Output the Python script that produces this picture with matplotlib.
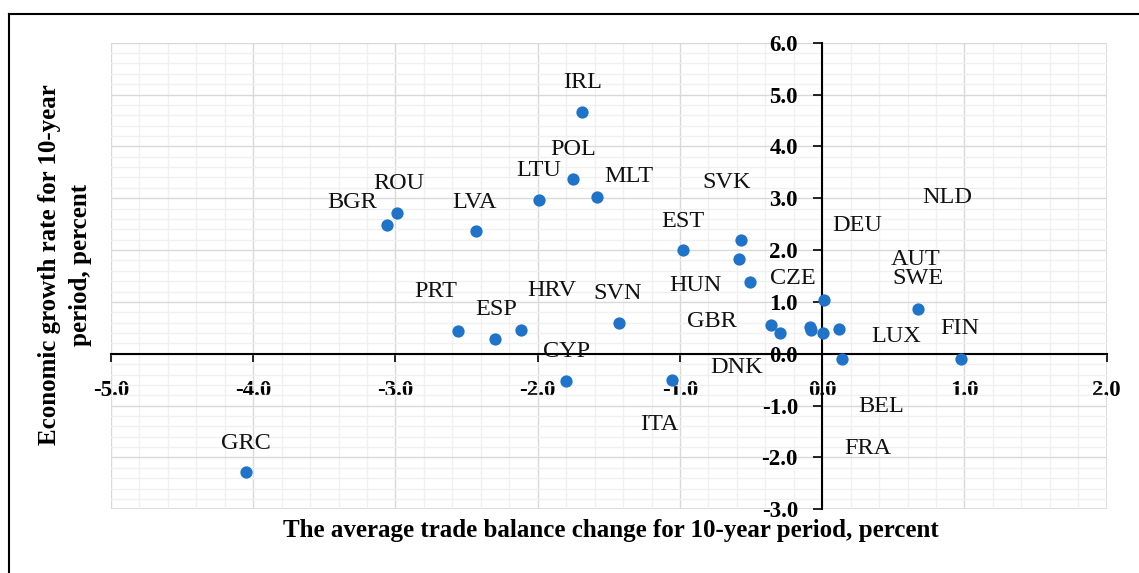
import numpy as np
import matplotlib.pyplot as plt
from matplotlib.ticker import MultipleLocator
from matplotlib.patches import Rectangle
from matplotlib.lines import Line2D

# Country codes and values
countries = ["BGR", "ROU", "LVA", "LTU", "POL", "IRL", "MLT", "EST",
             "SVK", "HUN", "CZE", "DEU", "NLD", "AUT", "SWE", "GBR",
             "DNK", "LUX", "FIN", "BEL", "FRA", "PRT", "ESP", "HRV",
             "SVN", "CYP", "ITA", "GRC"]
trade_change = [-3.06, -2.99, -2.435, -1.99, -1.75, -1.686, -1.585, -0.98,
                -0.572, -0.588, -0.506, 0.014, 0.005, 0.115, 0.673, -0.361,
                -0.30, 0.138, 0.975, -0.089, -0.08, -2.56, -2.30, -2.117,
                -1.43, -1.80, -1.053, -4.05]
growth_rate = [2.48, 2.71, 2.37, 2.97, 3.38, 4.67, 3.03, 2.01,
               2.20, 1.82, 1.39, 1.04, 0.41, 0.48, 0.86, 0.555,
               0.395, -0.10, -0.106, 0.51, 0.46, 0.43, 0.28, 0.45,
               0.59, -0.52, -0.505, -2.29]

# where each data label sits relative to its point (pixels, x right / y up)
label_offsets = {
    "BGR": (-35, 25), "ROU": (2, 32), "LVA": (-1, 31), "LTU": (0, 32),
    "POL": (0, 32), "IRL": (0, 32), "MLT": (32, 23), "EST": (0, 31),
    "SVK": (-14, 60), "HUN": (-43, -24), "CZE": (43, 6), "DEU": (33, 77),
    "NLD": (124, 138), "AUT": (77, 72), "SWE": (0, 33), "GBR": (-59, 6),
    "DNK": (-43, -32), "LUX": (54, 25), "FIN": (-1, 33), "BEL": (72, -77),
    "FRA": (57, -116), "PRT": (-22, 42), "ESP": (1, 32), "HRV": (31, 42),
    "SVN": (-1, 32), "CYP": (0, 32), "ITA": (-13, -42), "GRC": (0, 31),
}

serif = ["Liberation Serif", "DejaVu Serif"]
plt.rcParams['font.family'] = serif

W, H = 1139, 573
fig = plt.figure(figsize=(W / 100, H / 100), dpi=100)
ax = fig.add_axes([111 / W, 1 - 509.3 / H, (1106.7 - 111) / W, (509.3 - 42.7) / H])

ax.set_xlim(-5, 2)
ax.set_ylim(-3, 6)

# grid
ax.xaxis.set_major_locator(MultipleLocator(1))
ax.yaxis.set_major_locator(MultipleLocator(1))
ax.xaxis.set_minor_locator(MultipleLocator(0.2))
ax.yaxis.set_minor_locator(MultipleLocator(0.2))
ax.grid(which='minor', color='#f0f0f0', linewidth=1.0, zorder=0)
ax.grid(which='major', color='#d9d9d9', linewidth=1.0, zorder=0)
ax.set_axisbelow(True)

# axes crossing at zero
for s in ['top', 'right']:
    ax.spines[s].set_visible(False)
ax.spines['left'].set_position(('data', 0))
ax.spines['bottom'].set_position(('data', 0))
ax.spines['left'].set_linewidth(1.5)
ax.spines['bottom'].set_linewidth(1.5)
ax.add_patch(Rectangle((0, 0), 1, 1, transform=ax.transAxes, fill=False,
                       edgecolor='#d9d9d9', linewidth=1.2, zorder=0.5))

ax.tick_params(which='minor', length=0)
ax.tick_params(axis='x', which='major', direction='out', length=6, width=1.2,
               pad=13, labelsize=16.5)
ax.tick_params(axis='y', which='major', direction='out', length=6.5, width=1.2,
               pad=11, labelsize=16.5)
ax.set_xticks(np.arange(-5, 2.01, 1))
ax.set_yticks(np.arange(-3, 6.01, 1))
ax.set_xticklabels([f"{v:.1f}" for v in np.arange(-5, 2.01, 1)])
ax.set_yticklabels([f"{v:.1f}" for v in np.arange(-3, 6.01, 1)])
for lab in ax.get_xticklabels() + ax.get_yticklabels():
    lab.set_fontweight('bold')

ax.scatter(trade_change, growth_rate, s=78, color='#1f73c8', zorder=3,
           linewidths=0)

for name, xv, yv in zip(countries, trade_change, growth_rate):
    dx, dy = label_offsets[name]
    ax.annotate(name, (xv, yv), xytext=(dx, dy), textcoords='offset pixels',
                ha='center', va='center_baseline', fontsize=17.5, color='#111111',
                zorder=4)

fig.text(611 / W, 1 - 531 / H,
         "The average trade balance change for 10-year period, percent",
         ha='center', va='center', fontsize=18, fontweight='bold')
fig.text(65 / W, 1 - 265 / H,
         "Economic growth rate for 10-year\nperiod, percent",
         ha='center', va='center', rotation=90, fontsize=18,
         fontweight='bold', linespacing=1.45, multialignment='center')

# outer frame (cropped on right and bottom)
fx0, fy1 = 9 / W, 1 - 14 / H
fig.add_artist(Line2D([fx0, fx0], [-0.05, fy1], color='black', linewidth=1.5,
                      transform=fig.transFigure))
fig.add_artist(Line2D([fx0, 1.05], [fy1, fy1], color='black', linewidth=1.5,
                      transform=fig.transFigure))

fig.savefig("out.png", dpi=100)
